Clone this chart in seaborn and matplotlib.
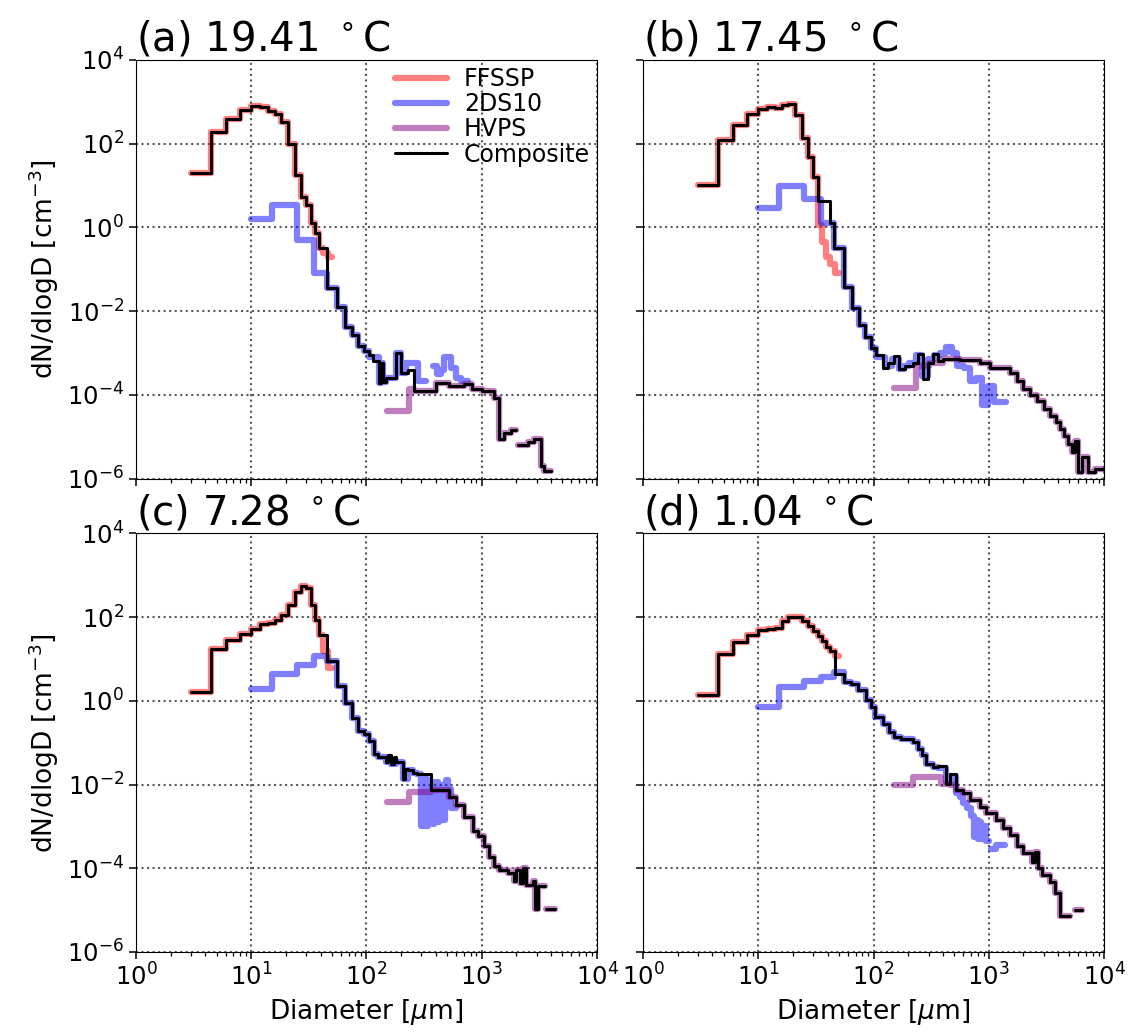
import numpy as np
import pandas as pd
import matplotlib
matplotlib.use("Agg")
import matplotlib.pyplot as plt
import seaborn as sns
from matplotlib.lines import Line2D
from matplotlib.ticker import NullLocator

nan = np.nan

# ---------------- data (bin left edges in um, log10 of dN/dlogD in cm^-3) ----------------
titles = ["(a) 19.41 $^\\circ$C", "(b) 17.45 $^\\circ$C", "(c) 7.28 $^\\circ$C", "(d) 1.04 $^\\circ$C"]
labels = ["FFSSP", "2DS10", "HVPS", "Composite"]

ffssp_D = [3, 4.5, 6, 8, 10, 12, 14, 16, 18, 21, 24, 27, 30, 33, 36, 39, 42, 46]
ffssp_end = 50

# panel (a)
a_ffssp = [1.30, 2.28, 2.60, 2.81, 2.89, 2.87, 2.77, 2.71, 2.53, 2.00, 1.25, 0.73, 0.53, 0.10, -0.14, -0.50, -0.60, -0.70]
a_2ds_D = [10, 15, 25, 35, 45, 55, 65, 75, 85, 95, 105, 128, 133, 138, 147, 180, 199, 220, 280, 330, 375, 410, 443, 473, 540, 600, 660]
a_2ds = [0.20, 0.53, -0.30, -1.08, -1.45, -1.89, -2.37, -2.56, -2.84, -2.95, -3.10, -3.72, -3.25, -3.70, -3.60, -3.00, -3.48, -3.24, -3.66, nan, -3.30, -3.50, -3.40, -3.10, -3.35, -3.60, -3.66]
a_2ds_end = 755
a_hvps_D = [150, 232, 260, 400, 525, 705, 830, 1010, 1290, 1420, 1570, 1800, 2000, 2060, 2500, 2850, 3250, 3500]
a_hvps = [-4.39, -3.87, -3.90, -3.71, -3.79, -3.75, -3.87, -3.90, -4.07, -5.06, -4.90, -4.83, nan, -5.21, -5.13, -5.06, -5.71, -5.83]
a_hvps_end = 4000
a_comp_D = [3, 4.5, 6, 8, 10, 12, 14, 16, 18, 21, 24, 27, 30, 33, 36, 39, 45, 55, 65, 75, 85, 95, 105, 115,
            128, 133, 138, 147, 180, 199, 227, 260, 400, 525, 705, 830, 1010, 1290, 1420, 1570, 1800, 2000,
            2060, 2500, 2850, 3250, 3500]
a_comp = [1.30, 2.28, 2.60, 2.81, 2.89, 2.87, 2.77, 2.71, 2.53, 2.00, 1.25, 0.73, 0.53, 0.10, -0.14, -0.50,
          -1.45, -1.89, -2.37, -2.56, -2.84, -2.95, -3.04, -3.20, -3.72, -3.25, -3.70, -3.60, -3.00, -3.48,
          -3.40, -3.90, -3.71, -3.79, -3.75, -3.87, -3.90, -4.07, -5.06, -4.90, -4.83, nan, -5.21, -5.13,
          -5.06, -5.71, -5.83]
a_comp_end = 4000

# panel (b)
b_ffssp = [1.02, 2.09, 2.44, 2.72, 2.84, 2.87, 2.85, 2.92, 2.96, 2.68, 2.13, 1.69, 1.20, 0.05, -0.35, -0.70, -0.88, -1.10]
b_2ds_D = [10, 15, 25, 35, 45, 55, 65, 75, 85, 95, 105, 125, 145, 165, 185, 205, 235, 265, 295, 335, 375,
           425, 475, 535, 605, 685, 775, 875, 985, 1105, 1245]
b_2ds = [0.46, 0.98, 0.68, 0.10, -0.49, -1.42, -1.92, -2.32, -2.61, -2.87, -3.10, -3.30, -3.15, -3.39, -3.31,
         -3.23, -3.05, -3.55, -3.15, -3.05, -3.00, -2.85, -3.00, -3.31, -3.35, -3.67, -3.60, -4.25, -3.80,
         -4.18, -4.18]
b_2ds_end = 1400
b_comp_D = [3, 4.5, 6, 8, 10, 12, 14, 16, 18, 21, 24, 27, 30, 33, 42, 45, 55, 65, 75, 85, 95, 105, 120, 133,
            152, 168, 186, 220, 243, 268, 297, 328, 362, 401, 560, 835, 1020, 1523, 1740, 1990, 2300, 2600,
            3000, 3390, 3800, 4140, 4500, 4900, 5300, 5600, 5980, 6390, 7310, 8350]
b_comp = [1.02, 2.09, 2.44, 2.72, 2.84, 2.87, 2.85, 2.92, 2.96, 2.68, 2.13, 1.69, 1.20, 0.62, 0.10, -0.49,
          -1.42, -1.92, -2.32, -2.61, -2.87, -3.05, -3.35, -3.23, -3.07, -3.39, -3.31, -3.23, -3.03, -3.63,
          -3.23, -3.03, -3.19, -3.15, -3.17, -3.23, -3.35, -3.47, -3.67, -3.85, -4.00, -4.15, -4.35, -4.50,
          -4.65, -4.81, -4.98, -5.17, -5.37, -5.10, -5.85, -5.49, -5.85, -5.77]
b_comp_end = 10500
b_hvps_head_D = [150, 235, 300]
b_hvps_head = [-3.83, -3.31, -3.25]
b_hvps_join = 401

# panel (c)
c_ffssp = [0.20, 1.25, 1.46, 1.60, 1.72, 1.83, 1.86, 1.94, 2.06, 2.29, 2.59, 2.74, 2.69, 2.29, 1.94, 1.58, 1.19, 0.79]
c_2ds_D = [10, 15, 25, 35, 45, 55, 65, 75, 85, 95, 105, 117, 125, 147, 163, 180, 206, 227, 251, 277, 297, 305,
           313, 321, 330, 340, 351, 375, 385, 395, 406, 417, 428, 440, 452, 465, 478, 490, 510, 540]
c_2ds = [0.28, 0.63, 0.85, 1.07, 0.96, 0.36, -0.04, -0.40, -0.71, -0.79, -0.95, -1.26, -1.34, -1.46, -1.50,
         -1.45, -1.86, -1.66, -1.72, -1.75, -3.00, -1.80, -3.00, -1.85, -3.00, -1.90, -2.05, -2.95, -1.95,
         -2.90, -1.95, -2.90, -2.00, -2.85, -2.00, -2.85, -2.00, -1.90, -2.10, -2.56]
c_2ds_end = 600
c_comp_D = [3, 4.5, 6, 8, 10, 12, 14, 16, 18, 21, 24, 27, 30, 33, 36, 39, 45, 55, 65, 75, 85, 95, 105, 117,
            125, 147, 155, 163, 172, 180, 206, 215, 227, 251, 277, 362, 523, 598, 707, 835, 923, 1055, 1166,
            1289, 1425, 1684, 1923, 2000, 2127, 2300, 2431, 2775, 2900, 3070, 3505, 3620]
c_comp = [0.20, 1.25, 1.46, 1.60, 1.72, 1.83, 1.86, 1.94, 2.06, 2.29, 2.59, 2.74, 2.69, 2.29, 1.94, 1.58,
          0.96, 0.36, -0.04, -0.40, -0.71, -0.79, -0.95, -1.26, -1.34, -1.46, -1.30, -1.50, -1.35, -1.45,
          -1.86, -1.62, -1.66, -1.72, -1.74, -2.13, -2.29, -2.49, -2.77, -3.12, -3.24, -3.48, -3.72, -3.95,
          -4.03, -4.11, -4.31, -4.05, -4.35, -4.00, -4.39, -4.31, -4.98, -4.43, nan, -4.98]
c_comp_end = 4285
c_hvps_head_D = [150, 235]
c_hvps_head = [-2.41, -2.17]
c_hvps_join = 362

# panel (d)
d_ffssp = [0.13, 1.13, 1.40, 1.58, 1.69, 1.71, 1.75, 1.91, 2.01, 2.00, 1.91, 1.79, 1.67, 1.56, 1.44, 1.28, 1.20, 1.08]
d_2ds_D = [10, 15, 25, 35, 45, 55, 64, 74, 86, 95, 104, 120, 135, 152, 172, 220, 245, 262, 287, 328, 362, 428,
           458, 523, 560, 600, 650, 700, 740, 770, 800, 830, 860, 900, 950, 1000, 1050, 1150]
d_2ds = [-0.15, 0.33, 0.48, 0.56, 0.68, 0.44, 0.40, 0.25, 0.01, -0.15, -0.39, -0.55, -0.75, -0.87, -0.90,
         -0.98, -1.14, -1.30, -1.50, -1.58, -1.60, -1.95, -1.80, -2.20, -2.30, -2.45, -2.55, -2.75, -3.25,
         -2.85, -3.30, -2.90, -3.30, -3.00, -3.35, nan, -3.55, -3.45]
d_2ds_end = 1370
d_comp_D = [3, 4.5, 6, 8, 10, 12, 14, 16, 18, 21, 24, 27, 30, 33, 36, 39, 42, 46, 55, 64, 74, 86, 95, 104,
            120, 135, 152, 172, 220, 245, 262, 287, 328, 362, 428, 458, 523, 598, 683, 835, 955, 1166, 1333,
            1523, 1740, 1990, 2350, 2500, 2650, 2870, 3390, 3750, 4140, 5060, 5600]
d_comp = [0.13, 1.13, 1.40, 1.58, 1.69, 1.71, 1.75, 1.91, 2.01, 2.00, 1.91, 1.79, 1.67, 1.56, 1.44, 1.28,
          1.20, 0.64, 0.44, 0.40, 0.25, 0.01, -0.15, -0.39, -0.55, -0.75, -0.87, -0.90, -0.98, -1.14, -1.30,
          -1.50, -1.58, -1.55, -1.98, -1.74, -2.13, -2.21, -2.37, -2.53, -2.69, -2.85, -3.05, -3.21, -3.48,
          -3.64, -3.84, -3.60, -4.00, -4.16, -4.32, -4.60, -5.15, nan, -5.00]
d_comp_end = 6390
d_hvps_head_D = [150, 220, 387, 428, 458]
d_hvps_head = [-2.00, -1.83, -1.98, -1.98, -2.00]
d_hvps_join = 523


def join_tail(head_D, head_N, D, N, dmin):
    i = next(k for k, d in enumerate(D) if d >= dmin)
    return list(head_D) + list(D[i:]), list(head_N) + list(N[i:])


b_hvps_D, b_hvps = join_tail(b_hvps_head_D, b_hvps_head, b_comp_D, b_comp, b_hvps_join)
c_hvps_D, c_hvps = join_tail(c_hvps_head_D, c_hvps_head, c_comp_D, c_comp, c_hvps_join)
d_hvps_D, d_hvps = join_tail(d_hvps_head_D, d_hvps_head, d_comp_D, d_comp, d_hvps_join)

panels = [
    dict(ffssp=a_ffssp, s2d=(a_2ds_D, a_2ds, a_2ds_end), hvps=(a_hvps_D, a_hvps, a_hvps_end),
         comp=(a_comp_D, a_comp, a_comp_end)),
    dict(ffssp=b_ffssp, s2d=(b_2ds_D, b_2ds, b_2ds_end), hvps=(b_hvps_D, b_hvps, b_comp_end),
         comp=(b_comp_D, b_comp, b_comp_end)),
    dict(ffssp=c_ffssp, s2d=(c_2ds_D, c_2ds, c_2ds_end), hvps=(c_hvps_D, c_hvps, c_comp_end),
         comp=(c_comp_D, c_comp, c_comp_end)),
    dict(ffssp=d_ffssp, s2d=(d_2ds_D, d_2ds, d_2ds_end), hvps=(d_hvps_D, d_hvps, d_comp_end),
         comp=(d_comp_D, d_comp, d_comp_end)),
]


def step_frame(D, logN, Dend):
    edges = list(D) + [Dend]
    rows, run, seg = [], [], 0

    def emit(run, seg):
        for k in run:
            rows.append((edges[k], 10.0 ** logN[k], seg))
        rows.append((edges[run[-1] + 1], 10.0 ** logN[run[-1]], seg))

    for i, v in enumerate(logN):
        if np.isnan(v):
            if run:
                emit(run, seg)
                seg += 1
                run = []
        else:
            run.append(i)
    if run:
        emit(run, seg)
    return pd.DataFrame(rows, columns=["D", "N", "seg"])


# ---------------- style ----------------
sns.set_style("ticks", rc={"axes.edgecolor": "black", "xtick.color": "black", "ytick.color": "black",
                           "text.color": "black", "axes.labelcolor": "black", "axes.linewidth": 1.2})
plt.rcParams["font.family"] = ["DejaVu Sans"]
plt.rcParams["mathtext.fontset"] = "dejavusans"

colors = ["red", "blue", "purple", "black"]

fig, axes = plt.subplots(2, 2, figsize=(11.32, 10.36), dpi=100, sharex=True, sharey=True)
fig.subplots_adjust(left=0.1201, right=0.9753, bottom=0.0811, top=0.9421, wspace=0.0998, hspace=0.131)

for idx, (ax, p) in enumerate(zip(axes.flat, panels)):
    ax.set_xscale("log")
    ax.set_yscale("log")
    series = [(ffssp_D, p["ffssp"], ffssp_end), p["s2d"], p["hvps"], p["comp"]]
    for k, (D, N, Dend) in enumerate(series):
        df = step_frame(D, N, Dend)
        if k < 3:
            sns.lineplot(data=df, x="D", y="N", units="seg", estimator=None, sort=False,
                         drawstyle="steps-post", color=colors[k], alpha=0.5, linewidth=4.5,
                         ax=ax, legend=False)
        else:
            sns.lineplot(data=df, x="D", y="N", units="seg", estimator=None, sort=False,
                         drawstyle="steps-post", color="black", linewidth=2.2, ax=ax, legend=False)
    ax.set_xlim(1, 1e4)
    ax.set_ylim(1e-6, 1e4)
    ax.set_yticks([1e-6, 1e-4, 1e-2, 1e0, 1e2, 1e4])
    ax.yaxis.set_minor_locator(NullLocator())
    ax.grid(True, which="major", linestyle=":", color="0.35", linewidth=1.5)
    ax.tick_params(which="major", labelsize=17.5, length=5, width=1.1, direction="out")
    ax.tick_params(which="minor", length=2.8, width=0.9, direction="out")
    ax.set_title(titles[idx], loc="left", fontsize=29, pad=6)
    ax.set_xlabel("Diameter [$\\mu$m]" if idx >= 2 else "", fontsize=19)
    ax.set_ylabel("dN/dlogD [cm$^{-3}$]" if idx % 2 == 0 else "", fontsize=19)

handles = [Line2D([], [], color=colors[k], alpha=0.5, linewidth=4.5) for k in range(3)]
handles.append(Line2D([], [], color="black", linewidth=2.2))
axes[0, 0].legend(handles, labels, loc="upper right", frameon=False, fontsize=17,
                  handlelength=2.2, handletextpad=0.7, labelspacing=0.05,
                  borderaxespad=0.1, borderpad=0.2)

fig.savefig("out.png", dpi=100)
